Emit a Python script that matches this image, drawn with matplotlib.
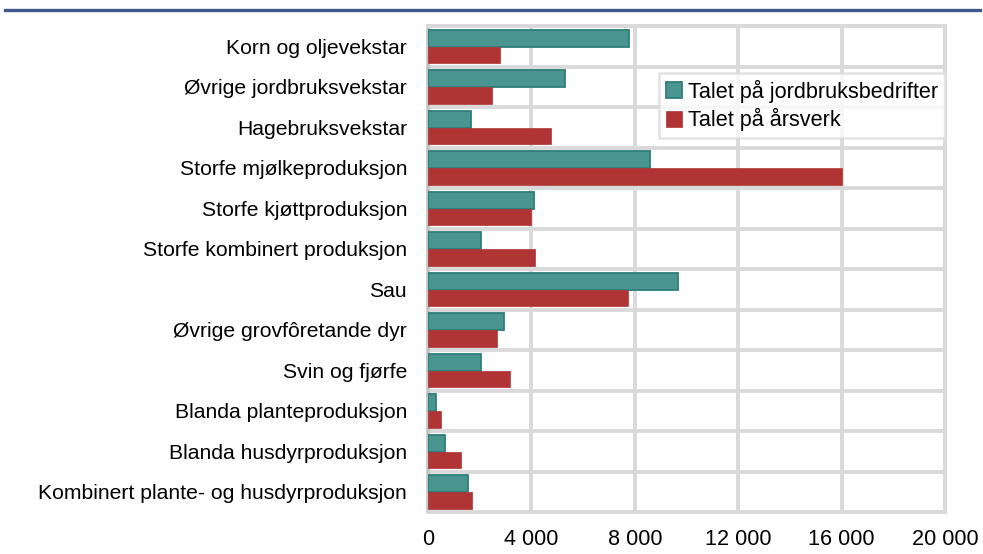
import matplotlib
matplotlib.use("Agg")
import matplotlib.pyplot as plt
from matplotlib.ticker import FixedLocator, FuncFormatter
import numpy as np

categories = [
    "Korn og oljevekstar",
    "Øvrige jordbruksvekstar",
    "Hagebruksvekstar",
    "Storfe mjølkeproduksjon",
    "Storfe kjøttproduksjon",
    "Storfe kombinert produksjon",
    "Sau",
    "Øvrige grovfôretande dyr",
    "Svin og fjørfe",
    "Blanda planteproduksjon",
    "Blanda husdyrproduksjon",
    "Kombinert plante- og husdyrproduksjon",
]
bedrifter = [7760, 5290, 1650, 8570, 4110, 2040, 9660, 2950, 2050, 320, 660, 1560]
arsverk = [2780, 2460, 4740, 16000, 3990, 4140, 7740, 2670, 3190, 500, 1290, 1700]
xticks = [0, 4000, 8000, 12000, 16000, 20000]
series_labels = ["Talet på jordbruksbedrifter", "Talet på årsverk"]

plt.rcParams['font.family'] = ['Liberation Sans', 'DejaVu Sans']

fig = plt.figure(figsize=(9.83, 5.54), dpi=100)
ax = fig.add_axes([428/983, 1-512/554, (945-428)/983, (512-26)/554])

teal = "#4b9591"
teal_edge = "#2e7e7a"
red = "#b03434"
grid = "#d9d9d9"

y = np.arange(len(categories))
ax.barh(y - 0.195, bedrifter, height=0.42, color=teal, edgecolor=teal_edge,
        linewidth=1.3, label=series_labels[0], zorder=3)
ax.barh(y + 0.215, arsverk, height=0.40, color=red, edgecolor=red,
        linewidth=0.5, label=series_labels[1], zorder=3)

ax.set_xlim(0, 20000)
ax.set_ylim(len(categories) - 0.5, -0.5)
ax.set_yticks(y)
ax.set_yticklabels(categories, fontsize=15.2)
ax.yaxis.set_minor_locator(FixedLocator(np.arange(-0.5, len(categories), 1.0)))
ax.set_xticks(xticks)
ax.xaxis.set_major_formatter(FuncFormatter(lambda v, p: f"{int(v):,}".replace(",", " ")))
ax.tick_params(axis='x', length=0, pad=12, labelsize=15.6)
ax.tick_params(axis='y', which='both', length=0, pad=15)

ax.grid(axis='x', which='major', color=grid, linewidth=2.8, zorder=1)
ax.grid(axis='y', which='minor', color=grid, linewidth=2.8, zorder=1)
ax.grid(axis='y', which='major', visible=False)
ax.set_axisbelow(True)

for s in ['top', 'right', 'bottom']:
    ax.spines[s].set_color(grid)
    ax.spines[s].set_linewidth(2.8)
ax.spines['left'].set_color("#c4c4c4")
ax.spines['left'].set_linewidth(2.6)

leg = ax.legend(loc='upper right', bbox_to_anchor=(1.0, 1 - (73-26)/486),
                fontsize=15.6, frameon=True, fancybox=False, borderpad=0.3,
                handlelength=0.75, handleheight=0.75, handletextpad=0.3,
                labelspacing=0.25, borderaxespad=0)
leg.get_frame().set_edgecolor("#dcdcdc")
leg.get_frame().set_linewidth(1.8)
leg.set_zorder(5)

# blue header rule
fig.add_artist(plt.Line2D([5/983, 980/983], [1-9.5/554, 1-9.5/554],
                          color="#41598a", linewidth=2.4, transform=fig.transFigure))

fig.savefig("out.png", dpi=100)
